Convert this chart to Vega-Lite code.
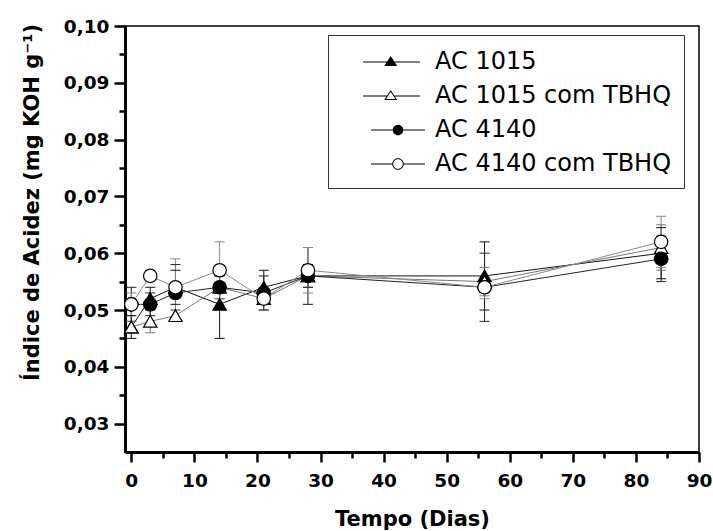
{
  "$schema": "https://vega.github.io/schema/vega-lite/v6.json",
  "width": 574,
  "height": 426,
  "autosize": {"type": "none"},
  "padding": {"left": 125, "top": 26, "right": 14, "bottom": 79},
  "background": "white",
  "config": {
    "font": "DejaVu Sans",
    "view": {"stroke": "black", "strokeWidth": 1.5},
    "axis": {
      "grid": false,
      "domainColor": "black",
      "domainWidth": 3,
      "tickColor": "black",
      "tickWidth": 2.5,
      "labelColor": "black",
      "labelFont": "DejaVu Sans",
      "labelFontWeight": "bold",
      "labelFontSize": 18.5,
      "titleColor": "black",
      "titleFont": "DejaVu Sans",
      "titleFontWeight": "bold",
      "titleFontSize": 21
    }
  },
  "resolve": {
    "axis": {"x": "independent", "y": "independent"},
    "scale": {"shape": "independent"},
    "legend": {"shape": "independent"}
  },
  "data": {
    "values": [
      {"dia": 0, "serie": "AC 1015", "valor": 0.047, "lo": 0.045, "hi": 0.049},
      {"dia": 3, "serie": "AC 1015", "valor": 0.052, "lo": 0.050, "hi": 0.054},
      {"dia": 7, "serie": "AC 1015", "valor": 0.054, "lo": 0.051, "hi": 0.057},
      {"dia": 14, "serie": "AC 1015", "valor": 0.051, "lo": 0.045, "hi": 0.057},
      {"dia": 21, "serie": "AC 1015", "valor": 0.054, "lo": 0.051, "hi": 0.057},
      {"dia": 28, "serie": "AC 1015", "valor": 0.056, "lo": 0.051, "hi": 0.061},
      {"dia": 56, "serie": "AC 1015", "valor": 0.056, "lo": 0.050, "hi": 0.062},
      {"dia": 84, "serie": "AC 1015", "valor": 0.060, "lo": 0.0555, "hi": 0.0645},
      {"dia": 0, "serie": "AC 1015 com TBHQ", "valor": 0.047, "lo": 0.046, "hi": 0.048},
      {"dia": 3, "serie": "AC 1015 com TBHQ", "valor": 0.048, "lo": 0.046, "hi": 0.050},
      {"dia": 7, "serie": "AC 1015 com TBHQ", "valor": 0.049, "lo": 0.048, "hi": 0.050},
      {"dia": 14, "serie": "AC 1015 com TBHQ", "valor": 0.054, "lo": 0.052, "hi": 0.056},
      {"dia": 21, "serie": "AC 1015 com TBHQ", "valor": 0.052, "lo": 0.050, "hi": 0.054},
      {"dia": 28, "serie": "AC 1015 com TBHQ", "valor": 0.056, "lo": 0.054, "hi": 0.058},
      {"dia": 56, "serie": "AC 1015 com TBHQ", "valor": 0.055, "lo": 0.0525, "hi": 0.0575},
      {"dia": 84, "serie": "AC 1015 com TBHQ", "valor": 0.061, "lo": 0.057, "hi": 0.065},
      {"dia": 0, "serie": "AC 4140", "valor": 0.051, "lo": 0.048, "hi": 0.054},
      {"dia": 3, "serie": "AC 4140", "valor": 0.051, "lo": 0.049, "hi": 0.053},
      {"dia": 7, "serie": "AC 4140", "valor": 0.053, "lo": 0.048, "hi": 0.058},
      {"dia": 14, "serie": "AC 4140", "valor": 0.054, "lo": 0.052, "hi": 0.056},
      {"dia": 21, "serie": "AC 4140", "valor": 0.053, "lo": 0.050, "hi": 0.056},
      {"dia": 28, "serie": "AC 4140", "valor": 0.056, "lo": 0.054, "hi": 0.058},
      {"dia": 56, "serie": "AC 4140", "valor": 0.054, "lo": 0.048, "hi": 0.060},
      {"dia": 84, "serie": "AC 4140", "valor": 0.059, "lo": 0.055, "hi": 0.063},
      {"dia": 0, "serie": "AC 4140 com TBHQ", "valor": 0.051, "lo": 0.049, "hi": 0.053},
      {"dia": 3, "serie": "AC 4140 com TBHQ", "valor": 0.056, "lo": 0.055, "hi": 0.057},
      {"dia": 7, "serie": "AC 4140 com TBHQ", "valor": 0.054, "lo": 0.050, "hi": 0.059},
      {"dia": 14, "serie": "AC 4140 com TBHQ", "valor": 0.057, "lo": 0.052, "hi": 0.062},
      {"dia": 21, "serie": "AC 4140 com TBHQ", "valor": 0.052, "lo": 0.051, "hi": 0.053},
      {"dia": 28, "serie": "AC 4140 com TBHQ", "valor": 0.057, "lo": 0.053, "hi": 0.061},
      {"dia": 56, "serie": "AC 4140 com TBHQ", "valor": 0.054, "lo": 0.052, "hi": 0.056},
      {"dia": 84, "serie": "AC 4140 com TBHQ", "valor": 0.062, "lo": 0.0575, "hi": 0.0665}
    ]
  },
  "layer": [
    {
      "mark": {"type": "line", "strokeWidth": 1},
      "encoding": {
        "x": {
          "field": "dia", "type": "quantitative",
          "scale": {"domain": [-1, 90], "nice": false, "zero": false},
          "axis": {
            "orient": "bottom",
            "title": "Tempo (Dias)",
            "values": [0, 10, 20, 30, 40, 50, 60, 70, 80, 90],
            "tickSize": 10,
            "labelPadding": 9,
            "labelFlush": false,
            "labelOverlap": false,
            "titleX": 287,
            "titleY": 67,
            "titleBaseline": "middle",
            "titleAlign": "center"
          }
        },
        "y": {
          "field": "valor", "type": "quantitative",
          "scale": {"domain": [0.025, 0.1], "nice": false, "zero": false},
          "axis": {
            "orient": "left",
            "title": "Índice de Acidez (mg KOH g⁻¹)",
            "values": [0.03, 0.04, 0.05, 0.06, 0.07, 0.08, 0.09, 0.1],
            "labelExpr": "replace(format(datum.value, '.2f'), '.', ',')",
            "tickSize": 11,
            "labelPadding": 5,
            "labelFlush": false,
            "labelOverlap": false,
            "titleX": -93,
            "titleY": 176,
            "titleAngle": -90,
            "titleAlign": "center",
            "titleBaseline": "middle"
          }
        },
        "detail": {"field": "serie"},
        "color": {
          "field": "serie", "type": "nominal",
          "scale": {"range": ["#111111", "#777777", "#222222", "#888888"]},
          "legend": null
        }
      }
    },
    {
      "mark": {"type": "rule", "strokeWidth": 1},
      "encoding": {
        "x": {
          "field": "dia", "type": "quantitative",
          "scale": {"domain": [-1, 90], "nice": false, "zero": false},
          "axis": {"orient": "bottom", "values": [5, 15, 25, 35, 45, 55, 65, 75, 85], "labels": false, "title": null, "domain": false, "tickSize": 6}
        },
        "y": {
          "field": "lo", "type": "quantitative",
          "scale": {"domain": [0.025, 0.1], "nice": false, "zero": false},
          "axis": {"orient": "left", "values": [0.035, 0.045, 0.055, 0.065, 0.075, 0.085, 0.095], "labels": false, "title": null, "domain": false, "tickSize": 6}
        },
        "y2": {"field": "hi"},
        "color": {"field": "serie", "type": "nominal", "legend": null}
      }
    },
    {
      "mark": {"type": "tick", "orient": "horizontal", "size": 10, "thickness": 1, "opacity": 1},
      "encoding": {
        "x": {"field": "dia", "type": "quantitative", "scale": {"domain": [-1, 90], "nice": false, "zero": false}, "axis": null},
        "y": {"field": "lo", "type": "quantitative", "scale": {"domain": [0.025, 0.1], "nice": false, "zero": false}, "axis": null},
        "color": {"field": "serie", "type": "nominal", "legend": null}
      }
    },
    {
      "mark": {"type": "tick", "orient": "horizontal", "size": 10, "thickness": 1, "opacity": 1},
      "encoding": {
        "x": {"field": "dia", "type": "quantitative", "scale": {"domain": [-1, 90], "nice": false, "zero": false}, "axis": null},
        "y": {"field": "hi", "type": "quantitative", "scale": {"domain": [0.025, 0.1], "nice": false, "zero": false}, "axis": null},
        "color": {"field": "serie", "type": "nominal", "legend": null}
      }
    },
    {
      "mark": {"type": "point", "size": 180, "strokeWidth": 1.2, "stroke": "black", "opacity": 1},
      "encoding": {
        "x": {"field": "dia", "type": "quantitative", "scale": {"domain": [-1, 90], "nice": false, "zero": false}, "axis": null},
        "y": {"field": "valor", "type": "quantitative", "scale": {"domain": [0.025, 0.1], "nice": false, "zero": false}, "axis": null},
        "fill": {
          "field": "serie", "type": "nominal",
          "scale": {"range": ["black", "white", "black", "white"]},
          "legend": null
        },
        "shape": {
          "field": "serie", "type": "nominal",
          "scale": {"range": ["triangle-up", "triangle-up", "circle", "circle"]},
          "legend": null
        }
      }
    },
    {
      "mark": {"type": "point", "size": 0, "filled": true, "color": "black", "strokeWidth": 0, "opacity": 1},
      "encoding": {
        "x": {"field": "dia", "type": "quantitative", "scale": {"domain": [-1, 90], "nice": false, "zero": false}, "axis": null},
        "y": {"field": "valor", "type": "quantitative", "scale": {"domain": [0.025, 0.1], "nice": false, "zero": false}, "axis": null},
        "shape": {
          "field": "serie", "type": "nominal",
          "scale": {
            "domain": ["AC 1015", "AC 1015 com TBHQ", "AC 4140", "AC 4140 com TBHQ"],
            "range": [
              "M0.533,-0.033L4.333,-0.033L4.333,0.033L0.533,0.033Z M2.38,-0.4L2.813,0.267L1.947,0.267Z",
              "M0.533,-0.033L2.15,-0.033L2.15,0.033L0.533,0.033Z M2.61,-0.033L4.333,-0.033L4.333,0.033L2.61,0.033Z M2.38,-0.4L2.813,0.267L1.947,0.267Z M2.38,-0.278L2.07,0.2L2.69,0.2Z",
              "M1.067,-0.033L4.667,-0.033L4.667,0.033L1.067,0.033Z M2.517,0A0.35,0.35 0 1,1 3.217,0A0.35,0.35 0 1,1 2.517,0Z",
              "M1.067,-0.033L2.51,-0.033L2.51,0.033L1.067,0.033Z M3.224,-0.033L4.667,-0.033L4.667,0.033L3.224,0.033Z M2.484,0A0.383,0.383 0 1,1 3.25,0A0.383,0.383 0 1,1 2.484,0Z M2.55,0A0.317,0.317 0 1,0 3.184,0A0.317,0.317 0 1,0 2.55,0Z"
            ]
          },
          "legend": {
            "title": null,
            "orient": "none",
            "legendX": 203,
            "legendY": 9,
            "padding": 12,
            "rowPadding": 7,
            "fillColor": "white",
            "strokeColor": "#333333",
            "symbolSize": 900,
            "symbolFillColor": "black",
            "symbolStrokeWidth": 0,
            "labelFont": "DejaVu Sans",
            "labelFontSize": 24,
            "labelColor": "black",
            "labelOffset": 65,
            "labelLimit": 400
          }
        }
      }
    }
  ]
}
